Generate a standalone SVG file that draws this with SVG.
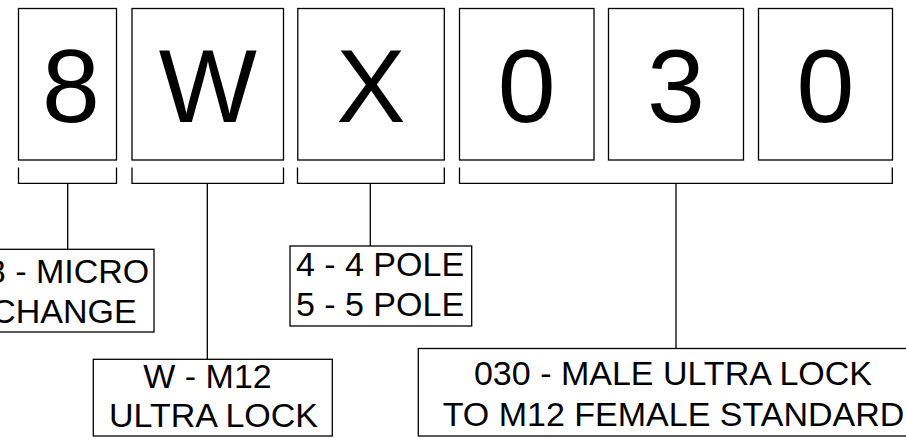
<svg xmlns="http://www.w3.org/2000/svg" width="906" height="439" viewBox="0 0 906 439">
<style>
.box{fill:#fff;stroke:#000;stroke-width:1.3}
.ln{fill:none;stroke:#000;stroke-width:1.3}
.big{font-family:"Liberation Sans",Arial,sans-serif;font-size:104px;text-anchor:middle;fill:#000}
.lbl{font-family:"Liberation Sans",Arial,sans-serif;font-size:34px;text-anchor:middle;fill:#000}
</style>
<rect width="906" height="439" fill="#fff"/>
<g id="char-8"><rect class="box" x="18.5" y="8.5" width="98" height="151.5"/><text class="big" x="71" y="121.5">8</text></g>
<g id="char-W"><rect class="box" x="132" y="8.5" width="151.5" height="151.5"/><text class="big" x="207.8" y="121.5">W</text></g>
<g id="char-X"><rect class="box" x="297.8" y="8.5" width="146.5" height="151.5"/><text class="big" x="371" y="121.5">X</text></g>
<g id="char-0a"><rect class="box" x="459.5" y="8.5" width="134.5" height="151.5"/><text class="big" x="526.7" y="121.5">0</text></g>
<g id="char-3"><rect class="box" x="608.5" y="8.5" width="135" height="151.5"/><text class="big" x="676" y="121.5">3</text></g>
<g id="char-0b"><rect class="box" x="758.5" y="8.5" width="134" height="151.5"/><text class="big" x="825.5" y="121.5">0</text></g>
<g id="connectors">
<path class="ln" d="M18.5,167.5V183.3H116.5V167.5M67.7,183.3V249.3"/>
<path class="ln" d="M132,167.5V183.3H283.5V167.5M207.3,183.3V359.3"/>
<path class="ln" d="M297.5,167.5V183.3H444.3V167.5M370.3,183.3V246"/>
<path class="ln" d="M459.5,167.5V183.3H892.3V167.5M676,183.3V348.5"/>
</g>
<g id="label-8"><rect class="box" x="-20" y="249.3" width="174" height="82.7"/><text class="lbl" x="68" y="283.3">8 - MICRO</text><text class="lbl" x="64" y="323.3">CHANGE</text></g>
<g id="label-W"><rect class="box" x="93.3" y="359.3" width="239" height="76.7"/><text class="lbl" x="207.5" y="387.7">W - M12</text><text class="lbl" x="213.5" y="427.3">ULTRA LOCK</text></g>
<g id="label-X"><rect class="box" x="290" y="246" width="181.7" height="80"/><text class="lbl" x="380" y="275.7">4 - 4 POLE</text><text class="lbl" x="380" y="316">5 - 5 POLE</text></g>
<g id="label-030"><rect class="box" x="418.3" y="348.5" width="512" height="87.5"/><text class="lbl" x="673" y="385">030 - MALE ULTRA LOCK</text><text class="lbl" x="673.5" y="426">TO M12 FEMALE STANDARD</text></g>
</svg>
